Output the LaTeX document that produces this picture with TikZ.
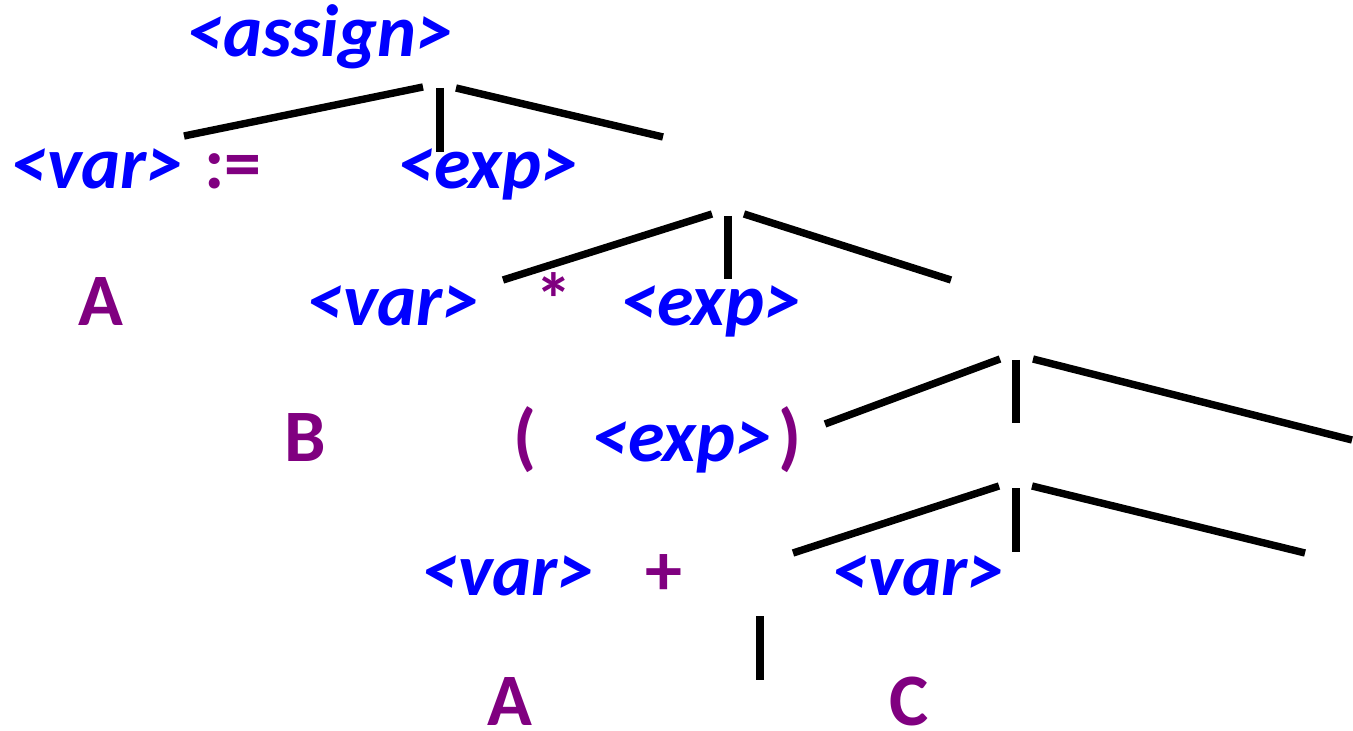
\documentclass[tikz,border=0pt]{standalone}
\usepackage{fontspec}
\setmainfont{Carlito}

\definecolor{ntblue}{RGB}{0,0,255}
\definecolor{tmpurple}{RGB}{128,0,128}

\tikzset{
  nonterm/.style={text=ntblue, font=\fontsize{37}{44}\selectfont\bfseries\itshape, inner sep=0pt, anchor=base},
  term/.style={text=tmpurple, font=\fontsize{37}{44}\selectfont\bfseries, inner sep=0pt, anchor=base},
  branch/.style={line width=3.7pt}
}

\begin{document}
\begin{tikzpicture}[x=0.5pt,y=-0.5pt]

\useasboundingbox (0,0) rectangle (1353,731);

% Row 1
\node[nonterm] (assign) at (320,57) {<assign>};

% Row 2
\node[nonterm] (var1) at (97,189) {<var>};
\node[term] (gets) at (233,189) {:=};
\node[nonterm] (exp1) at (488,189) {<exp>};

% Row 3
\node[term] (a1) at (101,326) {A};
\node[nonterm] (var2) at (393,326) {<var>};
\node[term] (times) at (554,326) {*};
\node[nonterm] (exp2) at (711,326) {<exp>};

% Row 4
\node[term] (b) at (305,461) {B};
\node[term] (lpar) at (525,461) {(};
\node[nonterm] (exp3) at (682,461) {<exp>};
\node[term] (rpar) at (790,461) {)};

% Row 5
\node[nonterm] (var3) at (508,595) {<var>};
\node[term] (plus) at (664,595) {+};
\node[nonterm] (var4) at (918,595) {<var>};

% Row 6
\node[term] (a2) at (510,725) {A};
\node[term] (c) at (909,725) {C};

% Branches under <assign>
\coordinate (asgL1) at (184,136); \coordinate (asgL2) at (423,87);
\coordinate (asgM1) at (440,88);  \coordinate (asgM2) at (440,152);
\coordinate (asgR1) at (456,88);  \coordinate (asgR2) at (663,137);
\draw[branch] (asgL1) -- (asgL2);
\draw[branch] (asgM1) -- (asgM2);
\draw[branch] (asgR1) -- (asgR2);

% Branches under first <exp>
\coordinate (expL1) at (503,280); \coordinate (expL2) at (712,214);
\coordinate (expM1) at (728,216); \coordinate (expM2) at (728,279);
\coordinate (expR1) at (744,214); \coordinate (expR2) at (951,280);
\draw[branch] (expL1) -- (expL2);
\draw[branch] (expM1) -- (expM2);
\draw[branch] (expR1) -- (expR2);

% Branches under second <exp>
\coordinate (parL1) at (825,424);  \coordinate (parL2) at (1000,359);
\coordinate (parM1) at (1016,360); \coordinate (parM2) at (1016,423);
\coordinate (parR1) at (1033,359); \coordinate (parR2) at (1352,440);
\draw[branch] (parL1) -- (parL2);
\draw[branch] (parM1) -- (parM2);
\draw[branch] (parR1) -- (parR2);

% Branches under inner <exp>
\coordinate (sumL1) at (793,553);  \coordinate (sumL2) at (999,486);
\coordinate (sumM1) at (1016,488); \coordinate (sumM2) at (1016,552);
\coordinate (sumR1) at (1032,486); \coordinate (sumR2) at (1305,553);
\draw[branch] (sumL1) -- (sumL2);
\draw[branch] (sumM1) -- (sumM2);
\draw[branch] (sumR1) -- (sumR2);

% Leaf stroke
\coordinate (leaf1) at (760,616); \coordinate (leaf2) at (760,680);
\draw[branch] (leaf1) -- (leaf2);

\end{tikzpicture}
\end{document}
